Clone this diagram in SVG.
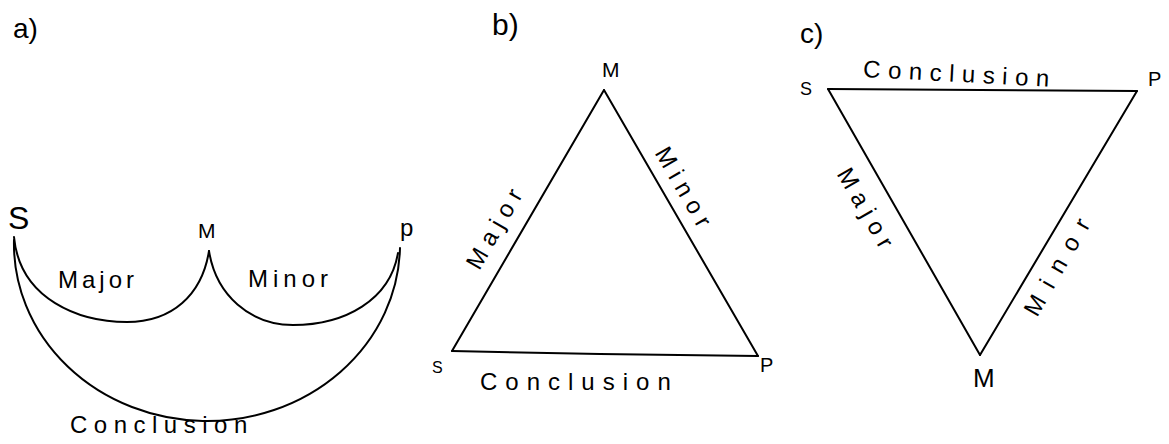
<svg xmlns="http://www.w3.org/2000/svg" width="1169" height="444" viewBox="0 0 1169 444">
<style>
.ln{fill:none;stroke:#000;stroke-width:2;stroke-linejoin:miter;stroke-linecap:round}
.t{font-family:"Liberation Sans",Arial,sans-serif;fill:#000}
.lab{font-size:24px;letter-spacing:6px}
</style>
<rect width="1169" height="444" fill="#fff"/>
<!-- Panel a -->
<g id="panel-a">
<text class="t" x="13" y="38" font-size="28">a)</text>
<g id="a-S"><text class="t" x="8" y="229" font-size="32">S</text></g>
<g id="a-M"><text class="t" x="198" y="238" font-size="21">M</text></g>
<g id="a-P"><text class="t" x="400" y="236" font-size="24">p</text></g>
<g id="a-connectors">
<path class="ln" d="M14,237 C20,300 80,322 127,322 C172,322 202,295 209,251"/>
<path class="ln" d="M209,251 C216,295 250,325 293,325 C345,325 390,300 398,253"/>
<path class="ln" d="M14,240 A193,177 0 0 0 400,248"/>
<text class="t lab" x="58" y="288" style="letter-spacing:4px">Major</text>
<text class="t lab" x="248" y="287" style="letter-spacing:5px">Minor</text>
<text class="t lab" x="70" y="433" style="letter-spacing:6.5px">Conclusion</text>
</g>
</g>
<!-- Panel b -->
<g id="panel-b">
<text class="t" x="492" y="35" font-size="30">b)</text>
<g id="b-M"><text class="t" x="602" y="77" font-size="21">M</text></g>
<g id="b-S"><text class="t" x="432" y="373" font-size="16">S</text></g>
<g id="b-P"><text class="t" x="760" y="372" font-size="20">P</text></g>
<g id="b-connectors">
<path class="ln" d="M604,90 L452,351"/>
<path class="ln" d="M604,90 L758,356"/>
<path class="ln" d="M452,351 L600,354 L758,356"/>
<text class="t lab" text-anchor="middle" transform="translate(496,226) rotate(-60)" x="0" y="8" style="letter-spacing:7px">Major</text>
<text class="t lab" text-anchor="middle" transform="translate(685,190) rotate(60)" x="0" y="8" style="letter-spacing:7px">Minor</text>
<text class="t lab" x="480" y="390" style="letter-spacing:8px">Conclusion</text>
</g>
</g>
<!-- Panel c -->
<g id="panel-c">
<text class="t" x="800" y="43" font-size="28">c)</text>
<g id="c-S"><text class="t" x="800" y="95" font-size="18">S</text></g>
<g id="c-P"><text class="t" x="1148" y="86" font-size="20">P</text></g>
<g id="c-M"><text class="t" x="973" y="387" font-size="26">M</text></g>
<g id="c-connectors">
<path class="ln" d="M828,89 L1137,91"/>
<path class="ln" d="M828,89 L980,355"/>
<path class="ln" d="M980,355 L1137,91"/>
<text class="t lab" text-anchor="middle" transform="translate(960,74) rotate(3)" x="0" y="8" style="letter-spacing:7.5px">Conclusion</text>
<text class="t lab" text-anchor="middle" transform="translate(867,211) rotate(60)" x="0" y="8" style="letter-spacing:7px">Major</text>
<text class="t lab" text-anchor="middle" transform="translate(1060,262) rotate(-60)" x="0" y="8" style="letter-spacing:12px">Minor</text>
</g>
</g>
</svg>
